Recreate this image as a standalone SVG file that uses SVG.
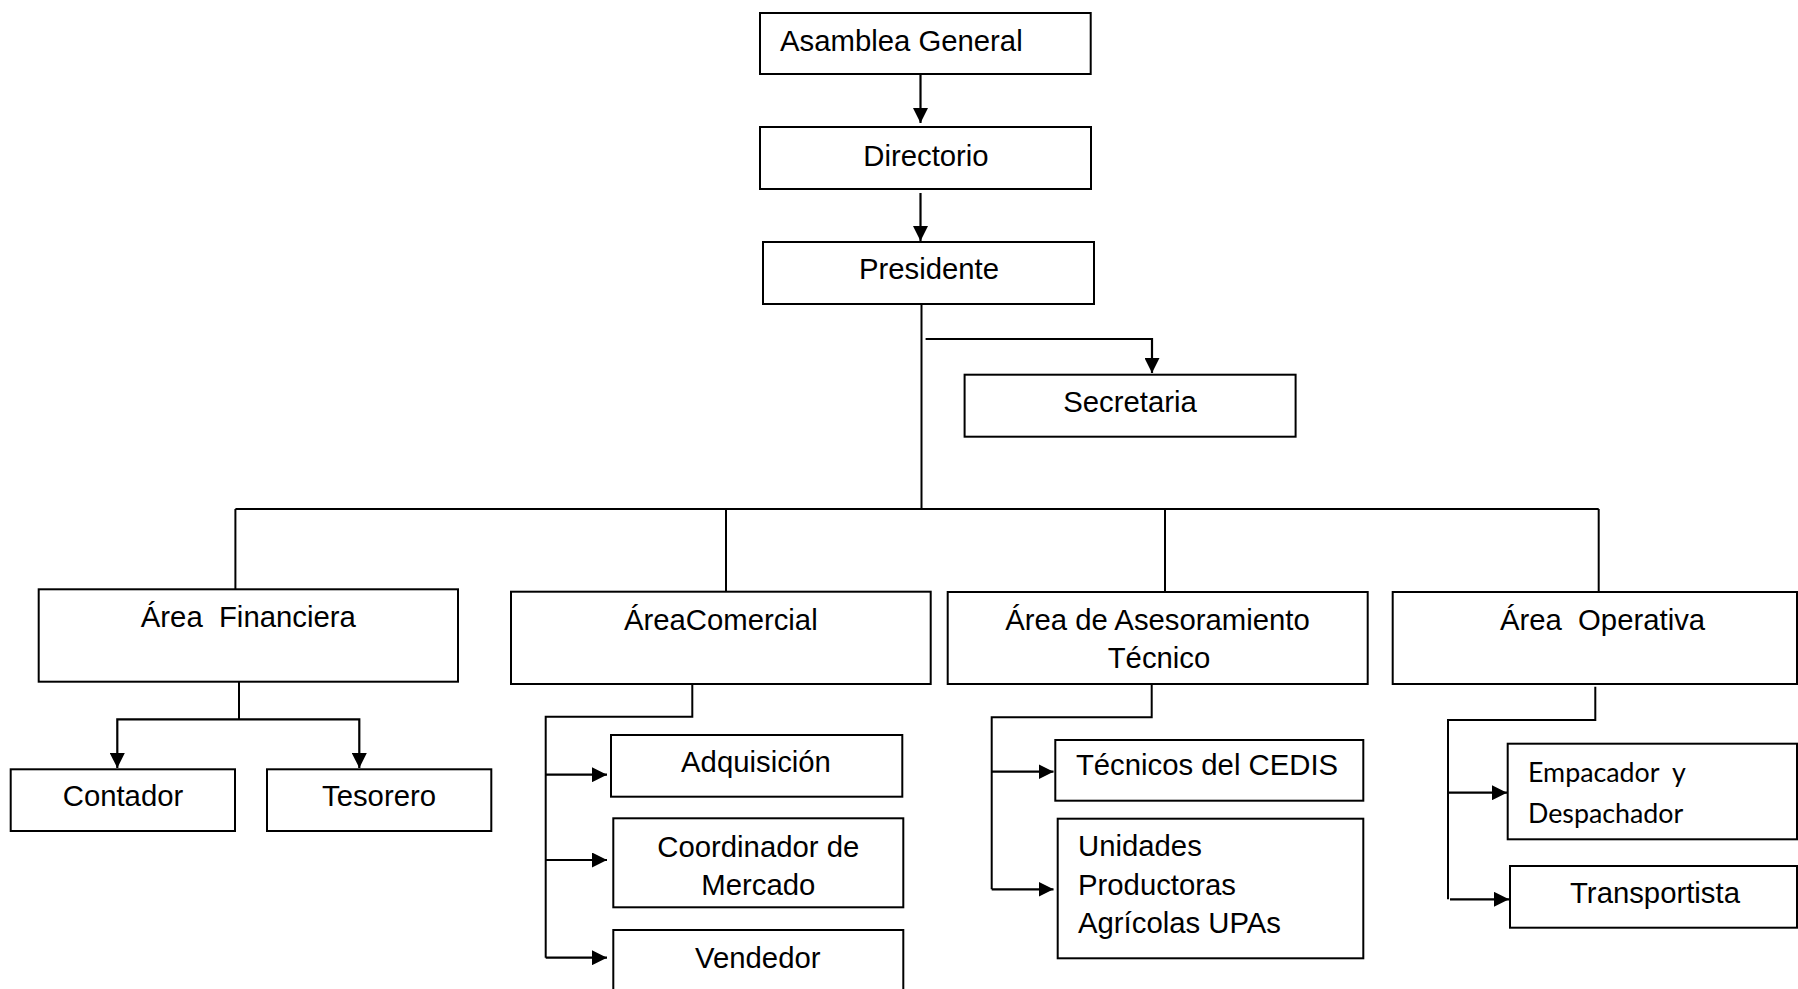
<svg xmlns="http://www.w3.org/2000/svg" width="1798" height="989" viewBox="0 0 1798 989">
  <style>
    .box { fill: #ffffff; stroke: #000000; stroke-width: 2; }
    .lbl { font-family: "Liberation Sans", Arial, sans-serif; font-size: 29.3px; fill: #000000; white-space: pre; }
    .mid { text-anchor: middle; }
    .cal { font-family: Lato, "Open Sans", sans-serif; font-size: 26.8px; fill: #000000; white-space: pre; }
    .wire { fill: none; stroke: #000000; stroke-width: 2; }
    .arrow { fill: none; stroke: #000000; stroke-width: 2.2; marker-end: url(#head); }
  </style>
  <defs>
    <marker id="head" markerUnits="userSpaceOnUse" markerWidth="16" markerHeight="15" refX="15" refY="7.5" orient="auto">
      <path d="M0,0 L15,7.5 L0,15 Z" fill="#000000"/>
    </marker>
  </defs>

  <rect width="1798" height="989" fill="#ffffff"/>

  <!-- connectors -->
  <g id="connectors">
    <path class="arrow" d="M920.5,74 V123"/>
    <path class="arrow" d="M920.5,193 V241"/>
    <path class="wire" d="M921.5,304 V509"/>
    <path class="arrow" d="M925.6,339 H1152 V373"/>
    <path class="wire" d="M235.4,509 H1598.7"/>
    <path class="wire" d="M235.4,509 V589"/>
    <path class="wire" d="M726,509 V591.7"/>
    <path class="wire" d="M1165,509 V592"/>
    <path class="wire" d="M1598.7,509 V592"/>

    <!-- Área Financiera -->
    <path class="wire" d="M239,682 V719.3"/>
    <path class="arrow" d="M239,719.3 H117.3 V768"/>
    <path class="arrow" d="M239,719.3 H359.3 V768"/>

    <!-- Área Comercial -->
    <path class="wire" d="M692.3,684 V716.7 H545.7 V957.7"/>
    <path class="arrow" d="M545.7,774.7 H607"/>
    <path class="arrow" d="M545.7,860 H607"/>
    <path class="arrow" d="M545.7,957.7 H607"/>

    <!-- Área de Asesoramiento Técnico -->
    <path class="wire" d="M1151.7,684 V717.3 H991.7 V889.3"/>
    <path class="arrow" d="M991.7,771.7 H1053.5"/>
    <path class="arrow" d="M991.7,889.3 H1053.5"/>

    <!-- Área Operativa -->
    <path class="wire" d="M1595.3,686.7 V720 H1448 V899.3"/>
    <path class="arrow" d="M1448,792.7 H1507"/>
    <path class="arrow" d="M1450,899.3 H1509"/>
  </g>

  <g id="asamblea">
    <rect class="box" x="760" y="13" width="330.7" height="61"/>
    <text class="lbl" x="780" y="51">Asamblea General</text>
  </g>
  <g id="directorio">
    <rect class="box" x="760" y="127" width="331" height="62"/>
    <text class="lbl mid" x="926" y="166">Directorio</text>
  </g>
  <g id="presidente">
    <rect class="box" x="763" y="242" width="331" height="62"/>
    <text class="lbl mid" x="929" y="279">Presidente</text>
  </g>
  <g id="secretaria">
    <rect class="box" x="964.6" y="374.7" width="331" height="62"/>
    <text class="lbl mid" x="1130" y="412">Secretaria</text>
  </g>

  <g id="area-financiera">
    <rect class="box" x="38.7" y="589.3" width="419.3" height="92.4"/>
    <text class="lbl mid" x="248.3" y="626.7">Área  Financiera</text>
  </g>
  <g id="contador">
    <rect class="box" x="10.7" y="769.3" width="224.3" height="61.7"/>
    <text class="lbl mid" x="123" y="806">Contador</text>
  </g>
  <g id="tesorero">
    <rect class="box" x="267" y="769.3" width="224.3" height="61.7"/>
    <text class="lbl mid" x="379" y="806">Tesorero</text>
  </g>

  <g id="area-comercial">
    <rect class="box" x="511" y="591.7" width="419.7" height="92.3"/>
    <text class="lbl mid" x="720.8" y="630">ÁreaComercial</text>
  </g>
  <g id="adquisicion">
    <rect class="box" x="611" y="735" width="291.3" height="61.7"/>
    <text class="lbl mid" x="756" y="771.7">Adquisición</text>
  </g>
  <g id="coordinador">
    <rect class="box" x="613.3" y="818.3" width="290" height="89"/>
    <text class="lbl mid" x="758.3" y="856.7">Coordinador de</text>
    <text class="lbl mid" x="758.3" y="895">Mercado</text>
  </g>
  <g id="vendedor">
    <rect class="box" x="613.3" y="930" width="290" height="70"/>
    <text class="lbl mid" x="757.8" y="968.3">Vendedor</text>
  </g>

  <g id="area-asesoramiento">
    <rect class="box" x="947.7" y="592" width="420" height="92"/>
    <text class="lbl mid" x="1157.5" y="630">Área de Asesoramiento</text>
    <text class="lbl mid" x="1159" y="668.3">Técnico</text>
  </g>
  <g id="tecnicos-cedis">
    <rect class="box" x="1055.3" y="740" width="308" height="60.7"/>
    <text class="lbl mid" x="1207" y="775">Técnicos del CEDIS</text>
  </g>
  <g id="unidades-productoras">
    <rect class="box" x="1057.7" y="818.7" width="305.6" height="139.6"/>
    <text class="lbl" x="1078" y="856">Unidades</text>
    <text class="lbl" x="1078" y="895">Productoras</text>
    <text class="lbl" x="1078" y="933.3">Agrícolas UPAs</text>
  </g>

  <g id="area-operativa">
    <rect class="box" x="1392.7" y="592" width="404.3" height="92"/>
    <text class="lbl mid" x="1602.5" y="630">Área  Operativa</text>
  </g>
  <g id="empacador">
    <rect class="box" x="1507.7" y="743.7" width="289.3" height="95.6"/>
    <text class="cal" x="1528" y="781.7">Empacador  y</text>
    <text class="cal" x="1528" y="823.3">Despachador</text>
  </g>
  <g id="transportista">
    <rect class="box" x="1510" y="866" width="287" height="61.7"/>
    <text class="lbl mid" x="1655" y="903.3">Transportista</text>
  </g>
</svg>
